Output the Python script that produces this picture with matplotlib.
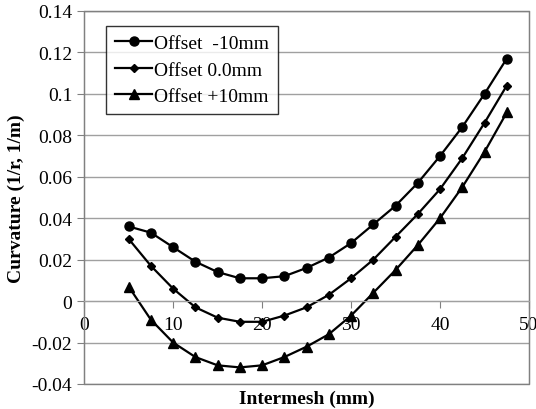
import matplotlib
matplotlib.use("Agg")
import matplotlib.pyplot as plt
from matplotlib.patches import Rectangle

plt.rcParams['font.family'] = ['Liberation Serif', 'DejaVu Serif']

intermesh = [5, 7.5, 10, 12.5, 15, 17.5, 20, 22.5, 25, 27.5, 30, 32.5, 35, 37.5, 40, 42.5, 45, 47.5]
off_m10 = [0.036, 0.033, 0.026, 0.019, 0.014, 0.011, 0.011, 0.012, 0.016, 0.021, 0.028, 0.037,
           0.046, 0.057, 0.070, 0.084, 0.100, 0.117]
off_0 = [0.030, 0.017, 0.006, -0.003, -0.008, -0.010, -0.010, -0.007, -0.003, 0.003, 0.011, 0.020,
         0.031, 0.042, 0.054, 0.069, 0.086, 0.104]
off_p10 = [0.007, -0.009, -0.020, -0.027, -0.031, -0.032, -0.031, -0.027, -0.022, -0.016, -0.007, 0.004,
           0.015, 0.027, 0.040, 0.055, 0.072, 0.091]

xticks = [0, 10, 20, 30, 40, 50]
yticks = [-0.04, -0.02, 0, 0.02, 0.04, 0.06, 0.08, 0.1, 0.12, 0.14]
ytick_labels = ['-0.04', '-0.02', '0', '0.02', '0.04', '0.06', '0.08', '0.1', '0.12', '0.14']

fig = plt.figure(figsize=(5.36, 4.10), dpi=100)
ax = fig.add_axes([0.157, 0.061, 0.830, 0.910])

ax.plot(intermesh, off_m10, color='black', lw=1.6, marker='o', ms=6.5, label='Offset  -10mm')
ax.plot(intermesh, off_0, color='black', lw=1.6, marker='D', ms=4.5, label='Offset 0.0mm')
ax.plot(intermesh, off_p10, color='black', lw=1.6, marker='^', ms=6.5, label='Offset +10mm')

ax.set_xlim(0, 50)
ax.set_ylim(-0.04, 0.14)
ax.set_xticks(xticks)
ax.set_xticklabels([str(v) for v in xticks])
ax.set_yticks(yticks)
ax.set_yticklabels(ytick_labels)

ax.grid(axis='y', color='#a0a0a0', lw=1)
ax.set_axisbelow(True)

for side in ['top', 'right', 'left']:
    ax.spines[side].set_color('#808080')
ax.spines['bottom'].set_position(('data', 0))
ax.spines['bottom'].set_color('#a0a0a0')
ax.add_patch(Rectangle((0, 0), 1, 1, transform=ax.transAxes, fill=False,
                       edgecolor='#808080', lw=1, clip_on=False))

ax.tick_params(axis='both', labelsize=14, color='#808080', length=5, direction='out')
ax.tick_params(axis='x', pad=6)

ax.set_ylabel('Curvature (1/r, 1/m)', fontsize=14, fontweight='bold', labelpad=5)
ax.set_xlabel('Intermesh (mm)', fontsize=14, fontweight='bold')
ax.xaxis.set_label_coords(0.5, -0.015)
ax.xaxis.label.set_va('top')

leg = ax.legend(loc='upper left', bbox_to_anchor=(0.05, 0.96), fontsize=14, frameon=True,
                fancybox=False, handlelength=1.9, handletextpad=0.1, borderpad=0.45,
                labelspacing=0.45, borderaxespad=0)
leg.get_frame().set_edgecolor('black')
leg.get_frame().set_linewidth(1)

fig.savefig('out.png', dpi=100)
